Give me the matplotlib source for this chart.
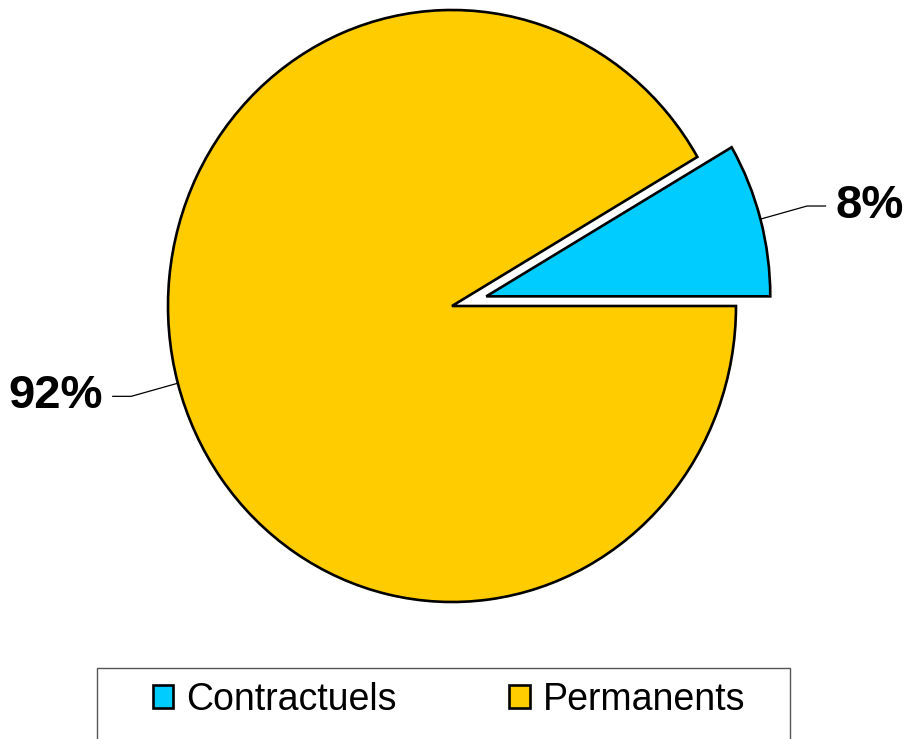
import numpy as np
import matplotlib.pyplot as plt
from matplotlib.patches import Rectangle

categories = ['Contractuels', 'Permanents']
shares = [8.4, 91.6]
colors = ['#00CCFF', '#FFCC00']
explode = [0.125, 0.0]

plt.rcParams['font.family'] = ['Liberation Sans', 'DejaVu Sans']

fig = plt.figure(figsize=(9.09, 7.39), dpi=100)
ax = fig.add_axes([0, 0, 1, 1])

wedges, _ = ax.pie(shares, colors=colors, explode=explode, startangle=0,
                   counterclock=True, radius=1.0,
                   wedgeprops=dict(edgecolor='black', linewidth=1.9))
ax.set_aspect('auto')
ax.set_xlim(-452 / 284, (909 - 452) / 284)
ax.set_ylim((306 - 739) / 296, 306 / 296)
ax.axis('off')

# percentage labels with leader lines
for w, val in zip(wedges, shares):
    mid = np.deg2rad((w.theta1 + w.theta2) / 2)
    cx, cy = w.center
    c, s = np.cos(mid), np.sin(mid)
    side = 1 if c > 0 else -1
    p0 = (cx + 1.0 * c, cy + 1.0 * s)
    p1 = (cx + 1.17 * c, cy + 1.17 * s)
    p2 = (p1[0] + side * 0.065, p1[1])
    ax.plot([p0[0], p1[0], p2[0]], [p0[1], p1[1], p2[1]], color='black', lw=0.9)
    ax.text(p2[0] + side * 0.035, p2[1], '%.0f%%' % val,
            ha='left' if side > 0 else 'right', va='center',
            fontsize=34, fontweight='bold')

# legend box (runs off the bottom edge)
fig.patches.append(Rectangle((97 / 909, -0.05), (790 - 97) / 909, 1 - 668 / 739 + 0.05,
                             transform=fig.transFigure, facecolor='white',
                             edgecolor='#555555', linewidth=1.0))
leg = fig.legend(wedges, categories, loc='center', ncol=2,
                 bbox_to_anchor=(449 / 909, 1 - 700 / 739), frameon=False,
                 fontsize=27, handlelength=0.55, handleheight=0.55,
                 handletextpad=0.35, columnspacing=3.0)

fig.savefig('out.png', dpi=100)
